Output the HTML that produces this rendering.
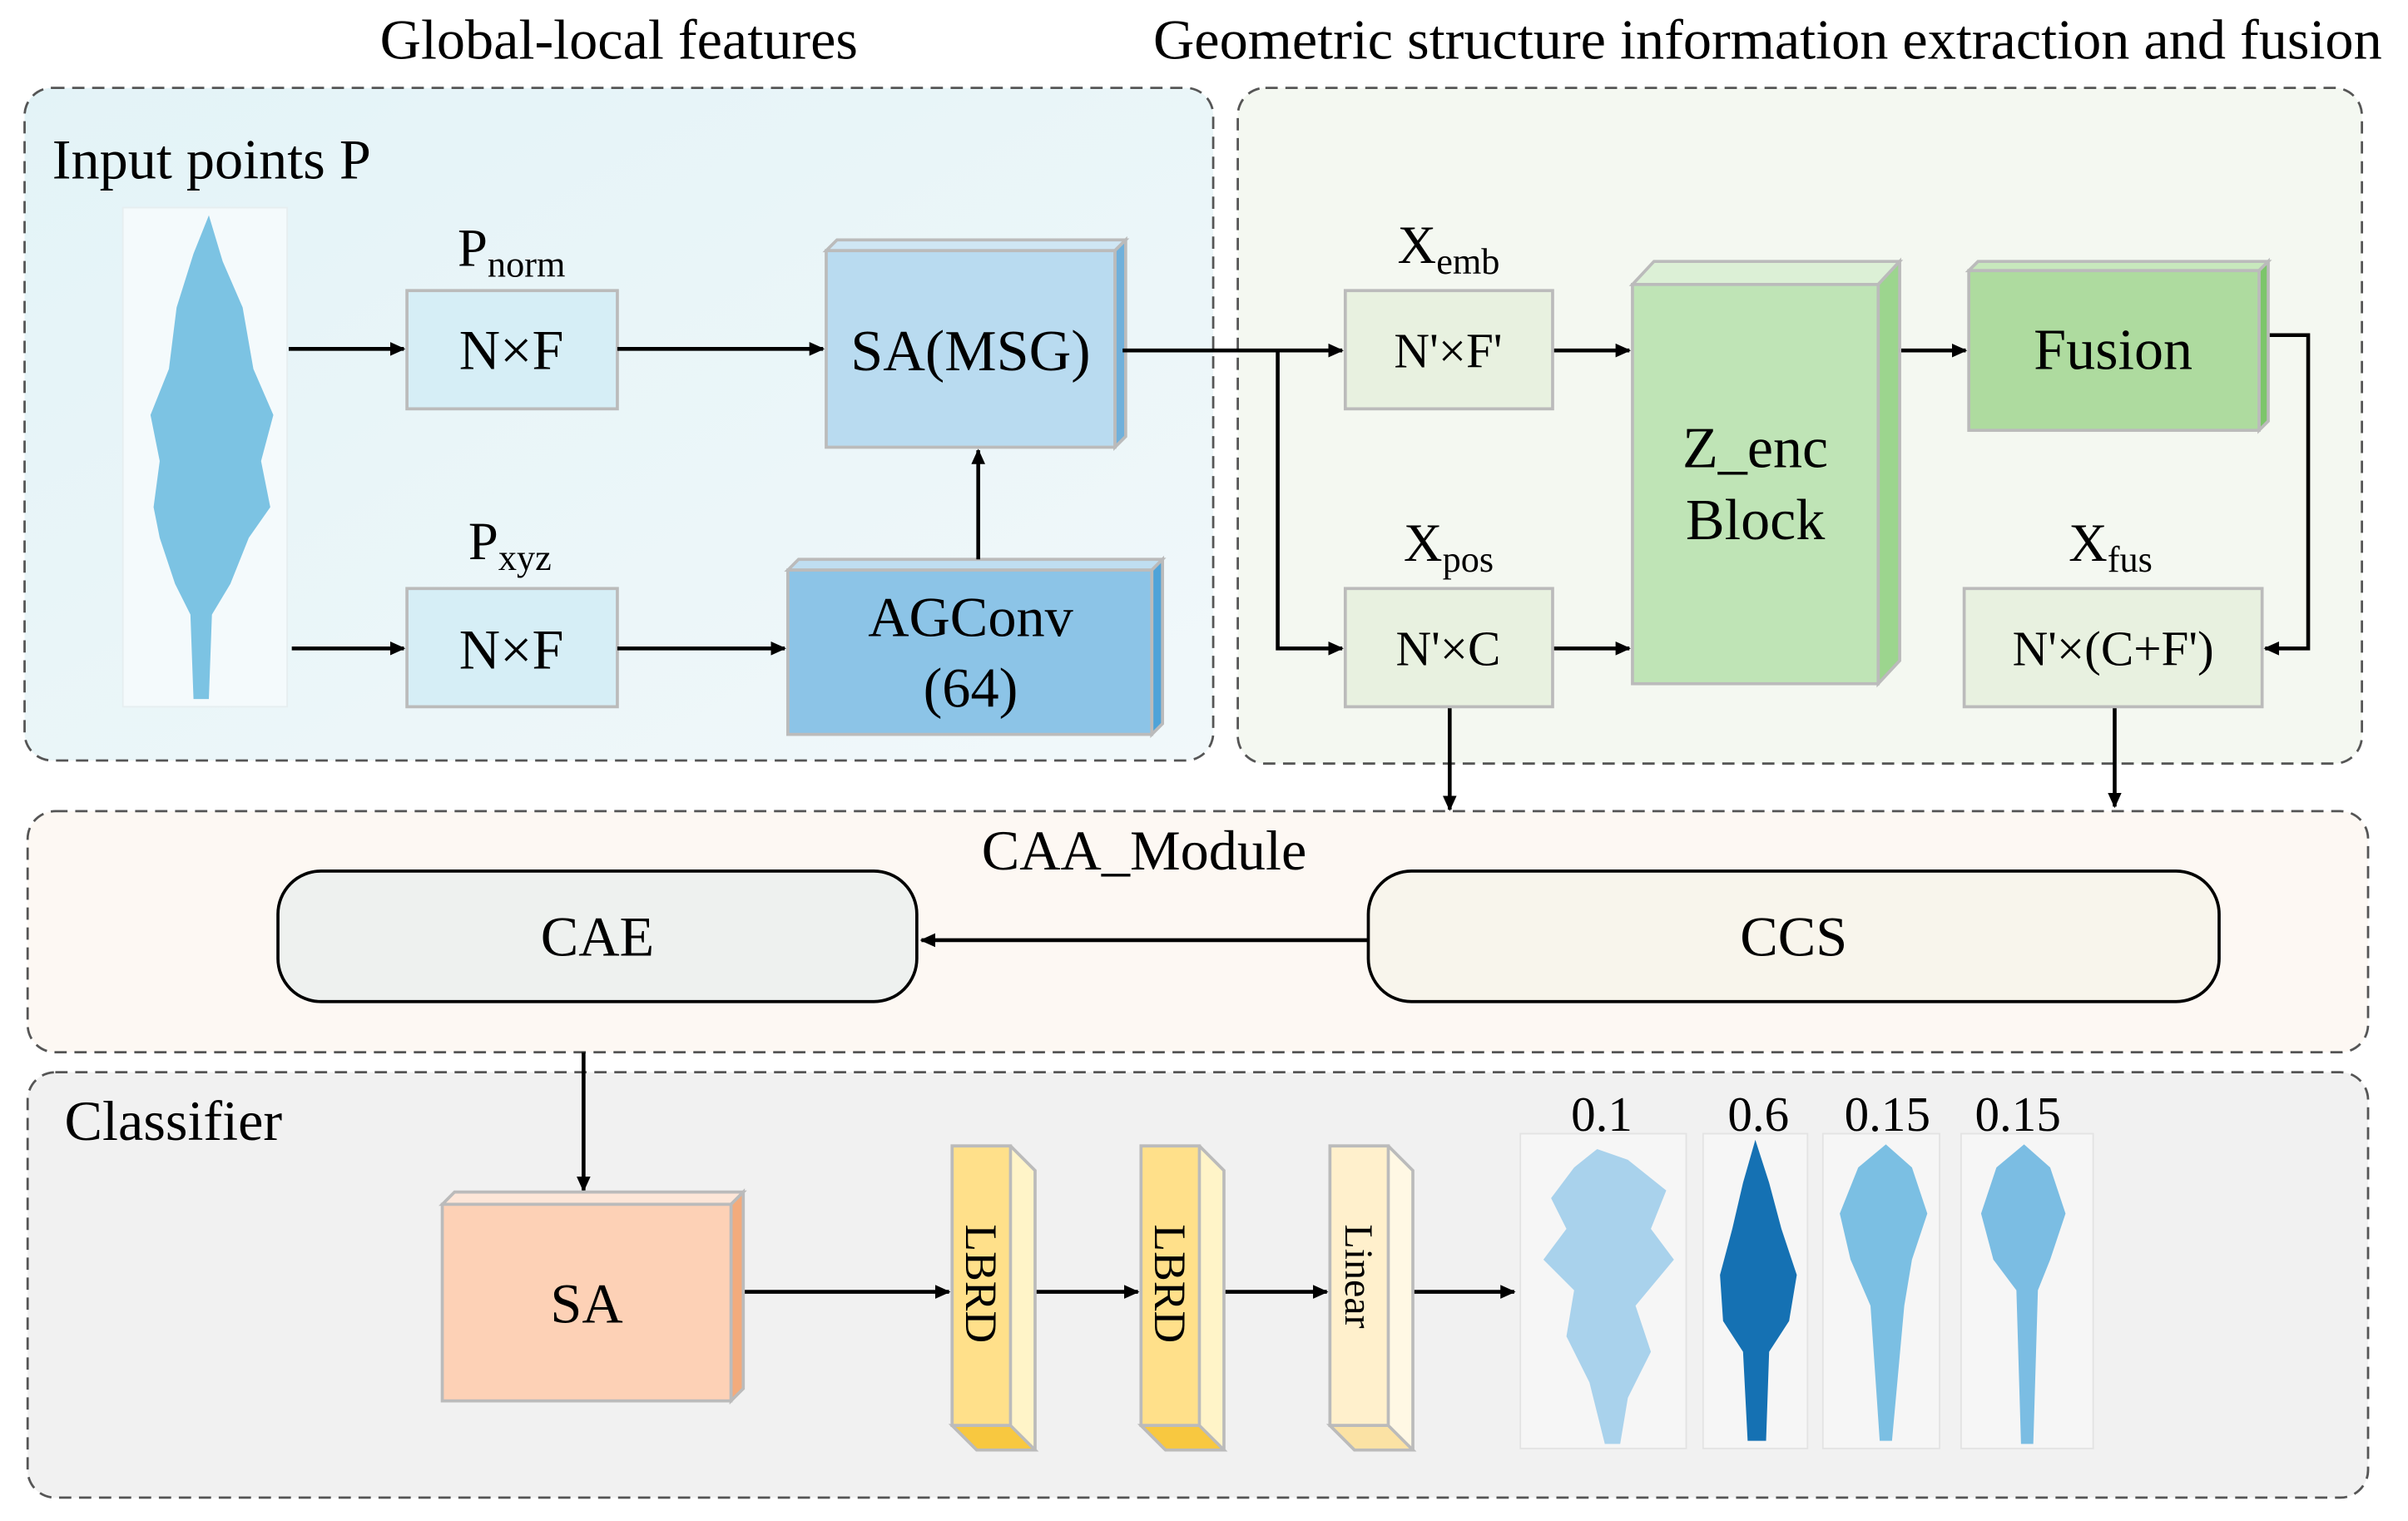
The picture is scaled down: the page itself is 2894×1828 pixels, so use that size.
<!DOCTYPE html>
<html><head><meta charset="utf-8"><style>html,body{margin:0;padding:0;background:#fff}svg{display:block}svg text{font-family:"Liberation Serif","Times New Roman",serif}</style></head>
<body>
<svg width="2894" height="1828" viewBox="0 0 1568 990" xmlns="http://www.w3.org/2000/svg" style="font-family:'Liberation Serif',serif">
<defs>
<marker id="a" markerWidth="10" markerHeight="10" refX="9" refY="5" orient="auto" markerUnits="userSpaceOnUse"><path d="M0,0.5 L10,5 L0,9.5 Z" fill="#000"/></marker>
<linearGradient id="g1" x1="0" y1="0" x2="1" y2="1"><stop offset="0" stop-color="#e3f3f7"/><stop offset="1" stop-color="#f1f8fa"/></linearGradient>
</defs>
<rect width="1568" height="990" fill="#fff"/>
<text x="403" y="38" font-size="37" text-anchor="middle">Global-local features</text>
<text x="1151" y="38" font-size="37" text-anchor="middle">Geometric structure information extraction and fusion</text>

<rect x="16" y="57" width="774" height="438" rx="18" fill="url(#g1)" stroke="#555" stroke-width="1.5" stroke-dasharray="8,5"/>
<rect x="806" y="57" width="732" height="440" rx="18" fill="#f4f8f1" stroke="#555" stroke-width="1.5" stroke-dasharray="8,5"/>
<rect x="18" y="528" width="1524" height="157" rx="18" fill="#fdf8f3" stroke="#555" stroke-width="1.5" stroke-dasharray="8,5"/>
<rect x="18" y="698" width="1524" height="277" rx="18" fill="#f1f1f1" stroke="#555" stroke-width="1.5" stroke-dasharray="8,5"/>

<text x="34" y="116" font-size="37">Input points P</text>
<rect x="80" y="135" width="107" height="325" fill="#f4fafc" stroke="#e6eef0"/>
<path d="M136,140 L145,170 L158,200 L165,240 L178,270 L170,300 L176,330 L162,350 L150,380 L138,400 L136,455 L126,455 L124,400 L114,380 L104,350 L100,330 L104,300 L98,270 L110,240 L115,200 L126,165 Z" fill="#7cc3e3"/>

<text x="298" y="173" font-size="35">P<tspan font-size="24" dy="7">norm</tspan></text>
<rect x="265" y="189" width="137" height="77" fill="#d6eef6" stroke="#bbb" stroke-width="2"/>
<text x="333" y="240" font-size="37" text-anchor="middle">N×F</text>
<text x="305" y="364" font-size="35">P<tspan font-size="24" dy="7">xyz</tspan></text>
<rect x="265" y="383" width="137" height="77" fill="#d6eef6" stroke="#bbb" stroke-width="2"/>
<text x="333" y="435" font-size="37" text-anchor="middle">N×F</text>

<path d="M538,163 L545,156 L733,156 L726,163 Z" fill="#cfe6f4" stroke="#bbb" stroke-width="2"/>
<path d="M726,163 L733,156 L733,284 L726,291 Z" fill="#6fb0db" stroke="#bbb" stroke-width="2"/>
<rect x="538" y="163" width="188" height="128" fill="#b9dbf0" stroke="#bbb" stroke-width="2"/>
<text x="632" y="241" font-size="38" text-anchor="middle">SA(MSG)</text>
<path d="M513,371 L520,364 L757,364 L750,371 Z" fill="#bfdef1" stroke="#bbb" stroke-width="2"/>
<path d="M750,371 L757,364 L757,471 L750,478 Z" fill="#4fa3d8" stroke="#bbb" stroke-width="2"/>
<rect x="513" y="371" width="237" height="107" fill="#8cc4e7" stroke="#bbb" stroke-width="2"/>
<text x="632" y="414" font-size="37" text-anchor="middle">AGConv</text>
<text x="632" y="460" font-size="37" text-anchor="middle">(64)</text>

<g stroke="#000" stroke-width="2.5" fill="none" marker-end="url(#a)">
<line x1="188" y1="227" x2="263" y2="227"/>
<line x1="402" y1="227" x2="536" y2="227"/>
<line x1="190" y1="422" x2="263" y2="422"/>
<line x1="402" y1="422" x2="511" y2="422"/>
<line x1="637" y1="364" x2="637" y2="293"/>
<line x1="731" y1="228" x2="874" y2="228"/>
<polyline points="832,228 832,422 874,422"/>
<line x1="1011" y1="228" x2="1061" y2="228"/>
<line x1="1011" y1="422" x2="1061" y2="422"/>
<line x1="1238" y1="228" x2="1280" y2="228"/>
<polyline points="1476,218 1503,218 1503,422 1475,422"/>
<line x1="944" y1="460" x2="944" y2="527"/>
<line x1="1377" y1="460" x2="1377" y2="525"/>
<line x1="891" y1="612" x2="600" y2="612"/>
<line x1="380" y1="685" x2="380" y2="775"/>
<line x1="482" y1="841" x2="618" y2="841"/>
<line x1="673" y1="841" x2="741" y2="841"/>
<line x1="797" y1="841" x2="864" y2="841"/>
<line x1="920" y1="841" x2="986" y2="841"/>
</g>

<text x="910" y="171" font-size="35">X<tspan font-size="24" dy="7">emb</tspan></text>
<rect x="876" y="189" width="135" height="77" fill="#e8f1e0" stroke="#bbb" stroke-width="2"/>
<text x="943" y="239" font-size="32" text-anchor="middle">N'×F'</text>
<text x="914" y="365" font-size="35">X<tspan font-size="24" dy="7">pos</tspan></text>
<rect x="876" y="383" width="135" height="77" fill="#e8f1e0" stroke="#bbb" stroke-width="2"/>
<text x="943" y="433" font-size="32" text-anchor="middle">N'×C</text>

<path d="M1063,185 L1077,170 L1237,170 L1223,185 Z" fill="#dcf0d6" stroke="#bbb" stroke-width="2"/>
<path d="M1223,185 L1237,170 L1237,430 L1223,445 Z" fill="#9cd58e" stroke="#bbb" stroke-width="2"/>
<rect x="1063" y="185" width="160" height="260" fill="#bfe4b6" stroke="#bbb" stroke-width="2"/>
<text x="1143" y="304" font-size="38" text-anchor="middle">Z_enc</text>
<text x="1143" y="351" font-size="38" text-anchor="middle">Block</text>

<path d="M1282,176 L1288,170 L1477,170 L1471,176 Z" fill="#c8e8bd" stroke="#bbb" stroke-width="2"/>
<path d="M1471,176 L1477,170 L1477,274 L1471,280 Z" fill="#7cc56a" stroke="#bbb" stroke-width="2"/>
<rect x="1282" y="176" width="189" height="104" fill="#aedb9f" stroke="#bbb" stroke-width="2"/>
<text x="1376" y="240" font-size="38" text-anchor="middle">Fusion</text>

<text x="1347" y="365" font-size="35">X<tspan font-size="24" dy="7">fus</tspan></text>
<rect x="1279" y="383" width="194" height="77" fill="#e8f1e0" stroke="#bbb" stroke-width="2"/>
<text x="1376" y="433" font-size="32" text-anchor="middle">N'×(C+F')</text>

<text x="745" y="566" font-size="37" text-anchor="middle">CAA_Module</text>
<rect x="181" y="567" width="416" height="85" rx="28" fill="#eef1ef" stroke="#000" stroke-width="2"/>
<text x="389" y="622" font-size="37" text-anchor="middle">CAE</text>
<rect x="891" y="567" width="554" height="85" rx="28" fill="#f8f5ec" stroke="#000" stroke-width="2"/>
<text x="1168" y="622" font-size="37" text-anchor="middle">CCS</text>

<text x="42" y="742" font-size="37">Classifier</text>
<path d="M288,784 L296,776 L484,776 L476,784 Z" fill="#fde6d8" stroke="#bbb" stroke-width="2"/>
<path d="M476,784 L484,776 L484,904 L476,912 Z" fill="#f3ab7c" stroke="#bbb" stroke-width="2"/>
<rect x="288" y="784" width="188" height="128" fill="#fdd1b6" stroke="#bbb" stroke-width="2"/>
<text x="382" y="861" font-size="37" text-anchor="middle">SA</text>

<g stroke="#bbb" stroke-width="2">
<path d="M620,746 L658,746 L674,762 L674,944 L636,944 L620,928 Z" fill="#fff4c8"/>
<rect x="620" y="746" width="38" height="182" fill="#ffe08a"/>
<path d="M620,928 L658,928 L674,944 L636,944 Z" fill="#f8c840"/>
<path d="M743,746 L781,746 L797,762 L797,944 L759,944 L743,928 Z" fill="#fff4c8"/>
<rect x="743" y="746" width="38" height="182" fill="#ffe08a"/>
<path d="M743,928 L781,928 L797,944 L759,944 Z" fill="#f8c840"/>
<path d="M866,746 L904,746 L920,762 L920,944 L882,944 L866,928 Z" fill="#fff8e4"/>
<rect x="866" y="746" width="38" height="182" fill="#fff0cc"/>
<path d="M866,928 L904,928 L920,944 L882,944 Z" fill="#fbe2a4"/>
</g>
<text font-size="29" transform="translate(629,797) rotate(90)">LBRD</text>
<text font-size="29" transform="translate(752,797) rotate(90)">LBRD</text>
<text font-size="26" transform="translate(876,797) rotate(90)">Linear</text>

<text x="1043" y="736" font-size="32" text-anchor="middle">0.1</text>
<text x="1145" y="736" font-size="32" text-anchor="middle">0.6</text>
<text x="1229" y="736" font-size="32" text-anchor="middle">0.15</text>
<text x="1314" y="736" font-size="32" text-anchor="middle">0.15</text>
<rect x="990" y="738" width="108" height="205" fill="#f6f6f6" stroke="#e3e3e3"/>
<rect x="1109" y="738" width="68" height="205" fill="#f6f6f6" stroke="#e3e3e3"/>
<rect x="1187" y="738" width="76" height="205" fill="#f6f6f6" stroke="#e3e3e3"/>
<rect x="1277" y="738" width="86" height="205" fill="#f6f6f6" stroke="#e3e3e3"/>
<path d="M1040,748 L1060,755 L1085,775 L1075,800 L1090,820 L1065,850 L1075,880 L1060,910 L1055,940 L1045,940 L1035,900 L1020,870 L1025,840 L1005,820 L1020,800 L1010,780 L1025,760 Z" fill="#a9d2ec"/>
<path d="M1143,742 L1152,770 L1160,800 L1170,830 L1165,860 L1152,880 L1150,938 L1138,938 L1135,880 L1122,860 L1120,830 L1128,800 L1135,770 Z" fill="#1571b3"/>
<path d="M1228,745 L1245,760 L1255,790 L1245,820 L1240,850 L1232,938 L1224,938 L1218,850 L1205,820 L1198,790 L1210,760 Z" fill="#7bbfe3"/>
<path d="M1318,745 L1335,760 L1345,790 L1335,820 L1327,840 L1324,940 L1316,940 L1313,840 L1298,820 L1290,790 L1300,760 Z" fill="#7bbde3"/>
</svg>
</body></html>
